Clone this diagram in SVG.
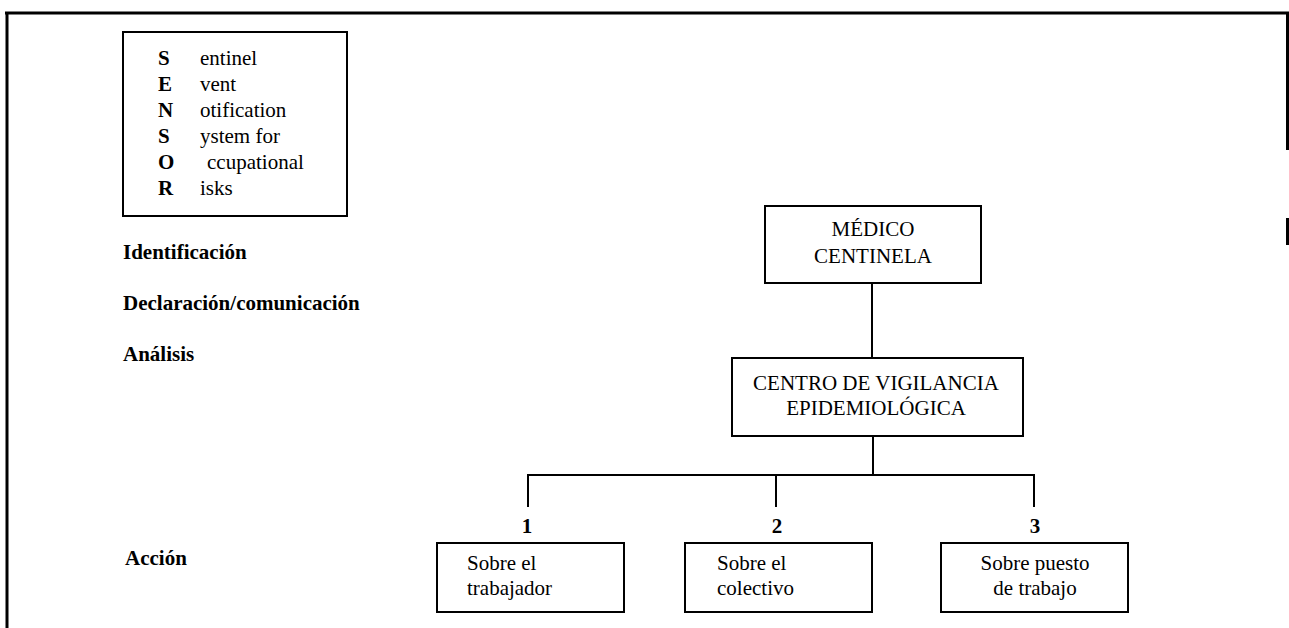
<svg xmlns="http://www.w3.org/2000/svg" width="1289" height="628" viewBox="0 0 1289 628" font-family="'Liberation Serif', 'Times New Roman', Times, serif">
<style>
  .t { font-family: 'Liberation Serif', 'Times New Roman', Times, serif; font-size: 21px; fill: #000; }
  .b { font-weight: bold; }
  .box { fill: #fff; stroke: #000; stroke-width: 2; }
  .ln { stroke: #000; stroke-width: 2; fill: none; }
  .frame { stroke: #000; stroke-width: 3; fill: none; }
</style>
<rect x="0" y="0" width="1289" height="628" fill="#fff"/>
<g id="frame">
  <line class="frame" x1="5" y1="13" x2="1289" y2="13"/>
  <line class="frame" x1="7" y1="13" x2="7" y2="628"/>
  <line class="frame" x1="1287.5" y1="13" x2="1287.5" y2="150"/>
  <line class="frame" x1="1287.5" y1="218" x2="1287.5" y2="245"/>
</g>
<g id="sensor">
  <rect class="box" x="123" y="32" width="224" height="184"/>
  <text class="t b" x="158" y="65">S</text><text class="t" x="200" y="65">entinel</text>
  <text class="t b" x="158" y="91">E</text><text class="t" x="200" y="91">vent</text>
  <text class="t b" x="158" y="117">N</text><text class="t" x="200" y="117">otification</text>
  <text class="t b" x="158" y="143">S</text><text class="t" x="200" y="143">ystem for</text>
  <text class="t b" x="158" y="169">O</text><text class="t" x="207" y="169">ccupational</text>
  <text class="t b" x="158" y="195">R</text><text class="t" x="200" y="195">isks</text>
</g>
<g id="stages">
  <text class="t b" x="123" y="259">Identificación</text>
  <text class="t b" x="123" y="310">Declaración/comunicación</text>
  <text class="t b" x="123" y="361">Análisis</text>
  <text class="t b" x="125" y="565">Acción</text>
</g>
<g id="connectors">
  <line class="ln" x1="872" y1="283" x2="872" y2="358"/>
  <line class="ln" x1="873" y1="436" x2="873" y2="475"/>
  <line class="ln" x1="528" y1="475" x2="1034" y2="475"/>
  <line class="ln" x1="528" y1="474" x2="528" y2="507"/>
  <line class="ln" x1="776" y1="475" x2="776" y2="507"/>
  <line class="ln" x1="1034" y1="474" x2="1034" y2="507"/>
</g>
<g id="medico">
  <rect class="box" x="765" y="206" width="216" height="77"/>
  <text class="t" x="873" y="236" text-anchor="middle">MÉDICO</text>
  <text class="t" x="873" y="263" text-anchor="middle">CENTINELA</text>
</g>
<g id="centro">
  <rect class="box" x="732" y="358" width="291" height="78"/>
  <text class="t" x="876" y="390" text-anchor="middle">CENTRO DE VIGILANCIA</text>
  <text class="t" x="876" y="415" text-anchor="middle">EPIDEMIOLÓGICA</text>
</g>
<g id="accion1">
  <text class="t b" x="527" y="533" text-anchor="middle">1</text>
  <rect class="box" x="437" y="543" width="187" height="69"/>
  <text class="t" x="467" y="570">Sobre el</text>
  <text class="t" x="467" y="595">trabajador</text>
</g>
<g id="accion2">
  <text class="t b" x="777" y="533" text-anchor="middle">2</text>
  <rect class="box" x="685" y="543" width="187" height="69"/>
  <text class="t" x="717" y="570">Sobre el</text>
  <text class="t" x="717" y="595">colectivo</text>
</g>
<g id="accion3">
  <text class="t b" x="1035" y="533" text-anchor="middle">3</text>
  <rect class="box" x="941" y="543" width="187" height="69"/>
  <text class="t" x="1035" y="570" text-anchor="middle">Sobre puesto</text>
  <text class="t" x="1035" y="595" text-anchor="middle">de trabajo</text>
</g>
</svg>
